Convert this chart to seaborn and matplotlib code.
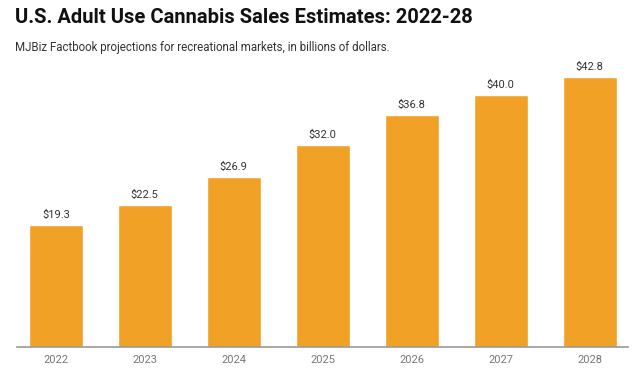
import pandas as pd
import numpy as np
import matplotlib.pyplot as plt
import seaborn as sns

# Data

years = ['2022', '2023', '2024', '2025', '2026', '2027', '2028']
sales = [19.3, 22.5, 26.9, 32.0, 36.8, 40.0, 42.8]

df = pd.DataFrame({'year': years, 'sales': sales})

sns.set_style('white')
plt.rcParams['font.family'] = ['Roboto', 'DejaVu Sans']

fig = plt.figure(figsize=(6.44, 3.78), dpi=100)
ax = fig.add_axes([0.026, 0.082, 0.949, 0.759])

sns.barplot(data=df, x='year', y='sales', color='#F2A127', saturation=1,
            width=0.61, ax=ax)

for i, v in enumerate(sales):
    ax.text(i, v + 0.8, f'${v:.1f}', ha='center', va='bottom',
            fontsize=8, color='#333333')

ax.set_xlim(-0.44, 6.43)
ax.set_ylim(0, 45.5)
ax.set_xlabel('')
ax.set_ylabel('')
ax.set_yticks([])
ax.tick_params(axis='x', length=0, labelsize=8, labelcolor='#777777', pad=6)

for s in ['top', 'right', 'left']:
    ax.spines[s].set_visible(False)
ax.spines['bottom'].set_color('#999999')
ax.spines['bottom'].set_linewidth(1.2)

# Titles

fig.text(0.023, 0.955, 'U.S. Adult Use Cannabis Sales Estimates: 2022-28',
         fontsize=14.5, fontweight='bold', color='#111111', va='center')
fig.text(0.023, 0.875, 'MJBiz Factbook projections for recreational markets, in billions of dollars.',
         fontsize=8.3, color='#333333', va='center')

plt.savefig('out.png', dpi=100)
